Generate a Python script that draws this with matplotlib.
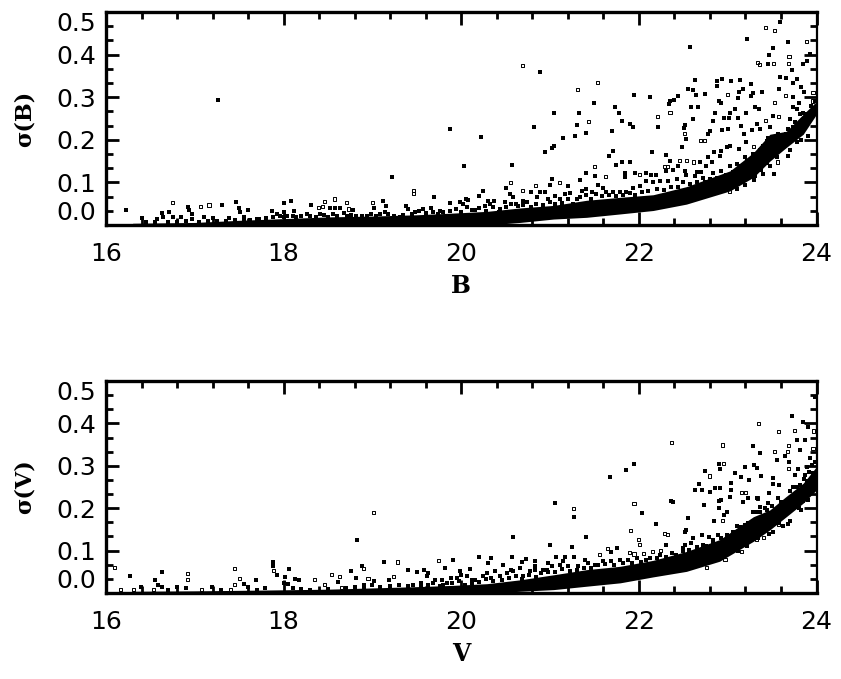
import numpy as np
import matplotlib
matplotlib.use('Agg')
import matplotlib.pyplot as plt
from matplotlib.ticker import MultipleLocator

# points (mag, sigma)
b_filled = [(20.89,.359),(19.87,.226),(20.22,.206),(20.03,.1375),(20.575,.14),(20.82,.229),(21.04,.264),
(21.325,.2625),(21.49,.286),(21.30,.235),(21.40,.217),(21.28,.209),(21.15,.205),(21.04,.186),(21.025,.18),(20.94,.172),
(21.73,.277),(21.775,.2625),(21.815,.2445),(21.70,.22),(21.905,.237),(21.93,.229),(21.945,.304),(22.125,.3015),
(22.21,.231),(22.34,.284),(22.355,.29),(22.395,.294),(22.44,.303),(22.575,.417),(22.63,.34),(22.555,.319),(22.61,.316),
(22.64,.305),(22.745,.307),(22.875,.337),(22.885,.327),(22.94,.342),(23.035,.338),(23.14,.34),(23.26,.332),(23.22,.436),
(23.59,.477),(23.675,.43),(23.505,.416),(23.465,.40),(23.925,.402),(23.45,.377),(23.89,.385),(23.85,.377),(23.72,.363),
(23.59,.348),(23.66,.346),(23.785,.342),(23.74,.334),(23.83,.325),(23.575,.319),(23.39,.313),(23.29,.311),(23.26,.303),
(23.175,.319),(23.125,.313),(23.12,.297),(22.90,.291),(22.92,.2875),(23.73,.3015),(23.86,.313),(23.80,.2875),(23.74,.276),
(23.785,.272),(23.305,.277),(23.355,.272),(23.21,.264),(23.08,.272),(23.025,.264),(22.855,.262),(22.585,.277),(22.67,.277),
(22.605,.248),(22.835,.2445),(22.96,.251),(23.01,.251),(23.12,.251),(23.155,.233),(23.51,.255),(23.335,.237),(23.475,.229),
(23.36,.2265),(23.275,.223),(23.18,.213),(22.515,.235),(22.505,.227),(22.535,.2015),(22.48,.184),(22.80,.221),(22.775,.213),
(22.94,.223),(23.005,.225),(22.85,.172),(22.925,.174),(22.99,.182),(23.03,.186),(23.125,.178),(23.21,.194),(22.15,.172),
(22.31,.164),(21.71,.174),(21.66,.161),(21.74,.14),(21.805,.149),(21.905,.148),(22.35,.151),(22.69,.147),(22.78,.159),
(22.82,.148),(22.91,.161),(21.41,.123),(21.505,.114),(21.84,.123),(21.84,.112),(21.955,.123),(22.08,.123),(22.14,.118),
(22.19,.118),(22.31,.126),(22.385,.129),(22.44,.1375),(22.52,.127),(22.65,.125),(22.705,.125),(22.76,.139),(21.02,.108),
(21.20,.092),(21.335,.106),(20.25,.08),(20.20,.067),(19.69,.065),(19.87,.052),(20.05,.061),(19.985,.055),(20.30,.057),
(20.365,.057),(20.50,.086),(21.0,.094),(23.68,.161),(23.52,.12),(23.475,.1375),(23.40,.12),(23.31,.116),
(16.23,.035),(17.265,.293),(19.22,.112),(16.92,.043),(16.93,.035),(17.31,.047),(17.46,.055),(17.5,.041),(17.51,.03),(17.60,.035),
(18.0,.052),(18.08,.057),(17.865,.034),(18.12,.032),(18.31,.047),(18.52,.041),(18.58,.04),(18.63,.041),(18.785,.035),
(19.02,.04),(19.115,.057),(19.15,.044),(19.38,.044),(19.40,.0375),(16.63,.028),(16.71,.031),(16.645,.018),(16.57,.014),
(16.40,.016),(16.76,.018),(16.85,.018),(16.965,.026),(16.965,.014),(17.1,.018),(17.21,.016),(17.38,.016),(17.55,.018),
(17.70,.014),(17.92,.026),(18.0,.03),(18.0,.018),(18.11,.022),(18.26,.026),(18.41,.026),(18.56,.026),(18.71,.022),
(18.82,.022),(18.935,.022),(19.085,.026),(19.18,.026),(19.31,.018),(19.48,.03),
(19.57,.038),(19.665,.041),(19.76,.034),(19.87,.032),(20.02,.049),(20.08,.059),(20.155,.035),(20.265,.045),(20.32,.049),
(20.435,.038),(20.49,.053),(20.55,.073),(20.585,.065),(20.62,.049),(20.70,.057),(20.735,.053),(20.79,.077),(20.85,.065),
(20.885,.077),(20.94,.077),(21.0,.053),(21.055,.069),(21.11,.061),(21.17,.073),(21.225,.074),(21.30,.061),(21.355,.08),
(21.41,.084),(21.47,.077),(21.54,.095),(21.6,.088),(21.635,.077),(21.71,.077),(21.785,.077),(21.86,.077),(21.935,.088),
(22.01,.091),(22.085,.103),(22.16,.1),(22.235,.103),(22.33,.103),(22.425,.107),(22.535,.118),(22.63,.114),(22.725,.11),
(22.84,.123),(22.93,.127),(23.025,.139),(23.1,.143),(23.195,.159),(23.29,.167),(23.36,.175),(23.44,.198),
(23.455,.205),(23.57,.213),(23.66,.213),(23.775,.217),(23.70,.248),(23.755,.241),(23.85,.264),(23.905,.2445),(23.87,.229),
(23.775,.194),(23.66,.19),(23.59,.182),(23.945,.264),(23.81,.26)]
b_open = [(20.69,.375),(21.31,.318),(21.535,.334),(21.43,.243),(22.21,.255),(22.35,.264),(23.43,.463),(23.53,.457),(23.89,.43),
(23.69,.395),(23.335,.381),(23.36,.377),(23.52,.38),(23.68,.38),(23.0,.307),(23.53,.2875),(23.65,.305),(23.955,.291),(23.96,.311),
(23.575,.255),(23.425,.2445),(22.515,.215),(22.69,.199),(22.735,.199),(23.29,.184),(22.46,.151),(22.535,.151),(22.62,.148),
(21.505,.1375),(21.62,.114),(22.01,.118),(22.29,.1375),(22.32,.1375),(21.11,.1),(20.555,.1),(20.84,.092),(20.69,.08),(23.56,.148),
(23.025,.078),(16.75,.053),(17.06,.043),(17.16,.047),(18.57,.061),(18.39,.041),(18.435,.044),(18.46,.055),(18.71,.053),(18.73,.0375),
(19.0,.053),(19.46,.08),(19.46,.073)]
# crowded rim of the locus, read less exactly
b_fringe = [(16.45,.008),(16.55,.006),(16.7,.006),(16.8,.008),(16.9,.01),(17.05,.008),(17.15,.01),(17.25,.01),(17.35,.01),(17.45,.012),(17.55,.012),
(17.62,.012),(17.72,.014),(17.8,.016),(17.88,.018),(17.96,.022),(18.04,.02),(18.14,.018),(18.2,.02),(18.3,.022),(18.36,.019),(18.46,.024),(18.5,.018),
(18.6,.022),(18.68,.028),(18.76,.024),(18.88,.02),(18.98,.026),(19.04,.02),(19.14,.03),(19.24,.022),(19.34,.024),(19.44,.026),(19.52,.032),(19.6,.028),
(19.68,.03),(19.74,.026),(19.8,.03),(19.94,.038),(20.0,.03),(20.06,.042),(20.12,.036),(20.2,.04),(20.28,.034),(20.36,.042),(20.42,.03),(20.5,.042),
(20.56,.05),(20.64,.044),(20.7,.048),(20.78,.042),(20.84,.05),(20.92,.046),(20.98,.06),(21.06,.05),(21.14,.052),(21.2,.06),(21.26,.05),(21.34,.066),
(21.4,.07),(21.46,.062),(21.52,.072),(21.58,.068),(21.66,.07),(21.74,.068),(21.82,.07),(21.9,.074),(21.96,.07),(22.04,.078),(22.1,.08),(22.2,.084),
(22.28,.082),(22.36,.09),(22.44,.09),(22.5,.1),(22.58,.096),(22.66,.1),(22.74,.102),(22.8,.108),(22.88,.11),(22.98,.118),(23.06,.125),(23.14,.138),
(23.22,.15),(23.28,.155),(23.34,.165),(23.4,.185),(23.46,.19),(23.52,.2),(23.6,.2),(23.68,.225),(23.74,.23),(23.8,.235),(23.88,.26),(23.94,.28),(23.98,.29),
(23.1,.085),(23.2,.095),(23.3,.105),(23.38,.13),(23.44,.145),(23.55,.16),(23.7,.175),(23.82,.2),(23.9,.21)]

v_filled = [(23.98,.463),(23.727,.418),(23.85,.403),(23.905,.392),(23.785,.36),(23.875,.36),(23.28,.347),(23.36,.33),(23.81,.3375),
(23.65,.322),(21.95,.305),(21.855,.289),(21.675,.273),(22.90,.305),(22.91,.292),(22.745,.288),(23.195,.297),(23.30,.302),(23.325,.294),
(23.38,.277),(23.08,.283),(23.155,.273),(23.24,.267),(23.55,.314),(23.69,.308),(23.51,.271),(23.505,.2575),(23.58,.255),(22.675,.257),
(22.63,.243),(22.715,.242),(22.80,.238),(22.855,.248),(22.91,.248),(23.04,.259),(23.04,.243),(22.93,.22),(22.9,.216),(23.03,.226),
(23.17,.214),(23.23,.224),(23.335,.224),(23.465,.235),(22.73,.208),(22.9,.2),(22.99,.192),(22.955,.183),(22.845,.169),(22.555,.177),
(22.365,.217),(22.385,.214),(22.04,.188),(22.19,.162),(22.535,.149),(22.52,.143),(22.715,.137),(22.79,.133),(22.89,.136),(22.61,.13),
(21.055,.212),(21.265,.179),(21.40,.132),(20.585,.133),(21.0,.114),(21.245,.1075),(21.755,.105),(21.69,.096),(22.31,.114),(22.52,.114),
(19.91,.0785),(19.815,.059),(20.20,.086),(20.575,.086),(20.34,.082),(20.305,.071),(20.10,.057),(19.985,.051),(20.465,.067),(20.68,.072),
(20.73,.081),(20.83,.075),(20.98,.071),(21.07,.084),(21.17,.086),(21.27,.086),(21.39,.078),(19.58,.055),(19.63,.047),(19.78,.03),
(19.89,.035),(20.12,.03),(20.285,.047),(20.38,.051),(20.555,.055),(20.66,.059),(20.83,.055),(20.96,.055),(21.15,.075),
(23.68,.163),(23.625,.159),(23.51,.144),(23.83,.196),(23.925,.318),(23.89,.298),(23.795,.292),(23.945,.302),(23.755,.279),(23.87,.279),
(16.27,.039),(16.635,.049),(16.55,.03),(16.59,.02),(16.63,.014),(17.55,.022),(17.685,.031),(17.885,.072),(17.885,.064),(17.92,.043),
(18.065,.057),(18.015,.038),(18.0,.024),(18.05,.022),(18.13,.034),(18.17,.031),(18.615,.026),(18.755,.051),(18.885,.063),(18.83,.126),
(18.82,.035),(19.02,.029),(19.135,.073),(19.40,.055),(19.5,.049),(19.19,.031),(19.46,.02),(18.9,.02),(16.39,.014),(16.8,.014),(16.9,.012),
(17.19,.014),(17.6,.014),(17.79,.012),
(19.55,.024),(19.61,.039),(19.685,.024),(19.76,.016),(19.835,.024),(19.95,.035),(20.0,.043),(20.06,.039),(20.155,.031),(20.25,.039),
(20.34,.035),(20.435,.039),(20.51,.047),(20.585,.051),(20.7,.039),(20.775,.051),(20.83,.063),(20.925,.055),(21.02,.063),(21.11,.067),
(21.205,.063),(21.315,.063),(21.43,.071),(21.505,.067),(21.6,.075),(21.69,.075),(21.785,.078),(21.88,.078),(21.975,.082),(22.085,.078),
(22.235,.09),(22.37,.094),(22.5,.106),(22.59,.118),(22.725,.114),(22.84,.126),(22.99,.137),(23.1,.157),(23.23,.165),(23.325,.192),(23.44,.196),
(23.74,.251),(23.81,.255),(23.89,.263),(23.96,.283),(23.755,.216),(23.645,.204),(23.57,.224),(23.455,.212),(23.36,.204),(23.285,.192),(23.85,.216),(23.98,.259)]
v_open = [(23.35,.40),(23.575,.38),(23.755,.383),(23.97,.382),(22.365,.356),(22.94,.349),(23.68,.347),(23.53,.334),(23.675,.334),(23.96,.34),
(22.955,.3045),(22.80,.276),(23.68,.294),(23.155,.238),(23.2,.238),(23.335,.224),(22.94,.171),(21.945,.212),(21.905,.147),(22.285,.141),
(22.32,.137),(21.265,.2),(22.0,.1255),(22.01,.114),(21.65,.105),(21.56,.09),(21.89,.096),(21.945,.092),(22.05,.094),(22.15,.098),(22.245,.0997),
(19.74,.076),(23.57,.161),(23.40,.131),(23.325,.126),(22.97,.0785),(22.76,.061),(23.155,.098),
(16.1,.06),(16.92,.045),(16.92,.031),(17.445,.057),(17.5,.035),(17.445,.02),(17.885,.053),(18.35,.031),(18.54,.043),(18.63,.039),(18.46,.02),
(18.9,.057),(19.01,.19),(18.95,.034),(19.28,.073),(19.235,.039),(18.65,.012),(16.16,.008),(16.31,.009),(16.53,.008),(17.08,.008),(17.4,.008)]
v_fringe = [(16.7,.006),(17.3,.006),(17.7,.008),(18.1,.012),(18.2,.01),(18.3,.008),(18.5,.01),(18.7,.012),(18.8,.014),(18.9,.012),
(19.0,.018),(19.08,.014),(19.2,.016),(19.3,.018),(19.4,.016),(19.55,.014),(19.62,.018),(19.7,.03),(19.8,.02),(19.9,.024),(19.98,.028),(20.04,.02),
(20.12,.024),(20.2,.026),(20.28,.032),(20.36,.028),(20.46,.03),(20.54,.036),(20.62,.04),(20.68,.032),(20.76,.042),(20.84,.038),(20.9,.046),(20.98,.05),
(21.06,.05),(21.14,.056),(21.22,.052),(21.3,.055),(21.38,.06),(21.46,.06),(21.54,.066),(21.62,.068),(21.72,.066),(21.82,.07),(21.92,.07),(22.02,.074),
(22.12,.082),(22.2,.082),(22.3,.086),(22.42,.09),(22.5,.098),(22.56,.102),(22.66,.108),(22.76,.11),(22.84,.118),(22.92,.13),(23.0,.135),(23.06,.145),
(23.14,.155),(23.2,.16),(23.28,.17),(23.36,.19),(23.42,.2),(23.5,.205),(23.6,.215),(23.7,.24),(23.78,.25),(23.86,.27),(23.92,.285),(23.98,.31),
(23.0,.11),(23.12,.1),(23.22,.11),(23.34,.13),(23.46,.14),(23.58,.165),(23.7,.17),(23.8,.2),(23.9,.22)]

# where the stars merge into solid black, only the edges of the locus can be read
b_edge_x = [16.3,17.0,17.5,18.0,18.5,19.0,19.5,19.91,20.29,20.66,21.04,21.41,21.79,22.16,22.535,23.025,23.29,23.475,23.66,23.85,24.0]
b_edge_hi = [.004,.006,.011,.015,.019,.021,.024,.028,.032,.04,.046,.058,.065,.071,.09,.127,.17,.213,.22,.26,.29]
b_edge_lo = [0,0,0,0,0,0,0,0,0,.006,.014,.018,.026,.034,.049,.08,.112,.15,.182,.213,.26]
v_edge_x = [16.3,17.0,17.8,18.5,19.0,19.5,19.91,20.29,20.66,21.04,21.41,21.79,22.16,22.535,22.91,23.29,23.475,23.66,23.85,24.0]
v_edge_hi = [.004,.005,.007,.009,.012,.015,.018,.022,.031,.043,.055,.063,.077,.098,.126,.18,.196,.228,.259,.298]
v_edge_lo = [0,0,0,0,0,0,0,0,.004,.008,.016,.024,.038,.051,.075,.122,.149,.18,.212,.243]

y_ticks = [0.0,0.1,0.2,0.3,0.4,0.5]
y_labels = ['0.0','0.1','0.2','0.3','0.4','0.5']
x_ticks = [16,18,20,22,24]

W,H = 841,679
fig = plt.figure(figsize=(W/100,H/100),dpi=100)
ax1 = fig.add_axes([106/W,1-225/H,710.5/W,213/H])
ax2 = fig.add_axes([106/W,1-593/H,710.5/W,212/H])

def draw(ax,filled,opened,fringe,ex,hi,lo,xlab,ylab):
    ax.fill_between(ex,lo,hi,color='k',lw=0)
    f = np.array(filled+fringe).T
    o = np.array(opened).T
    ax.scatter(f[0],f[1],s=6,marker='s',c='k',linewidths=0)
    ax.scatter(o[0],o[1],s=5,marker='s',facecolors='none',edgecolors='k',linewidths=.7)
    ax.set_xlim(16,24)
    ax.set_ylim(0,.5)
    ax.set_xticks(x_ticks)
    ax.set_yticks(y_ticks)
    ax.set_yticklabels(y_labels)
    ax.xaxis.set_minor_locator(MultipleLocator(.4))
    ax.yaxis.set_minor_locator(MultipleLocator(.1/3))
    ax.tick_params('both',which='major',direction='in',length=9.5,width=2,top=True,right=True,labelsize=18)
    ax.tick_params('both',which='minor',direction='in',length=4.7,width=2,top=True,right=True)
    ax.tick_params('x',which='major',pad=12)
    ax.tick_params('y',which='major',pad=7)
    lbls = ax.get_yticklabels()
    lbls[0].set_va('bottom')
    lbls[-1].set_va('top')
    for s in ['left','top','bottom']:
        ax.spines[s].set_linewidth(2.4)
    ax.spines['right'].set_linewidth(1.6)
    ax.set_xlabel(xlab,family='DejaVu Serif',fontweight='bold',fontsize=17,labelpad=6)
    ax.set_ylabel(ylab,family='DejaVu Serif',fontweight='bold',fontsize=16,labelpad=15)

draw(ax1,b_filled,b_open,b_fringe,b_edge_x,b_edge_hi,b_edge_lo,'B','σ(B)')
draw(ax2,v_filled,v_open,v_fringe,v_edge_x,v_edge_hi,v_edge_lo,'V','σ(V)')

plt.savefig('out.png',dpi=100)
